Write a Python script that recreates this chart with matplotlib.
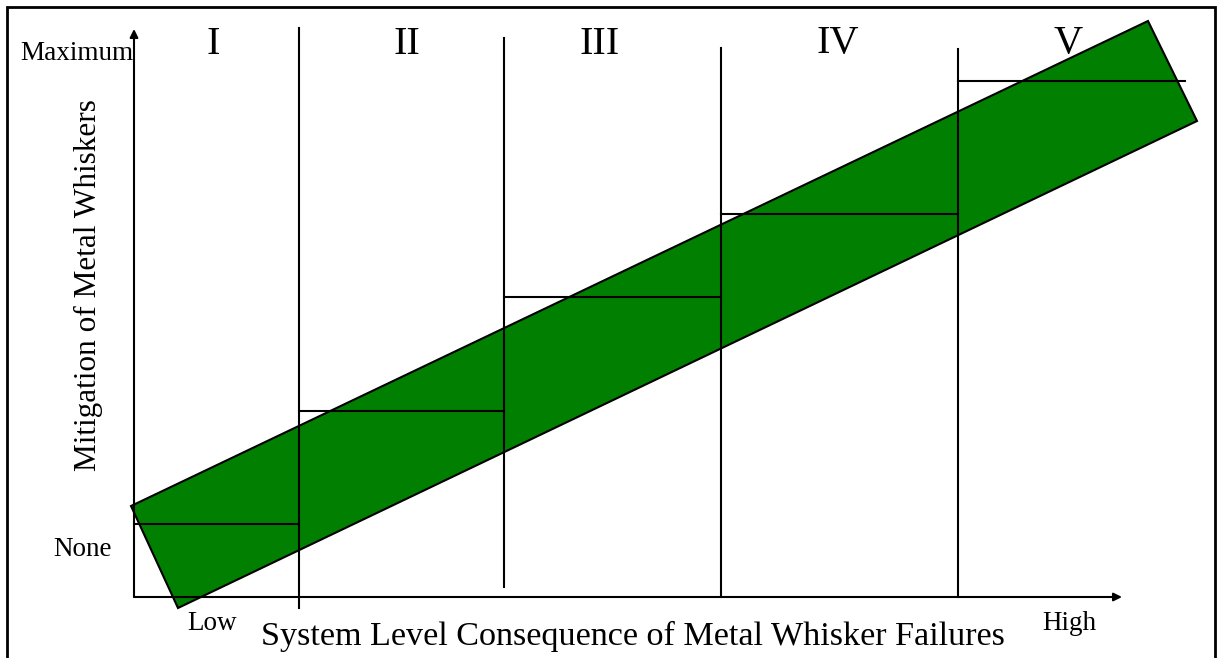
import matplotlib
matplotlib.use("Agg")
import matplotlib.pyplot as plt
from matplotlib.patches import Polygon

# ---- data (units: axis-relative positions on the schematic) ----
region_labels = ["I", "II", "III", "IV", "V"]
region_label_x = [79, 273, 466, 704, 934]
region_label_y = 553
divider_x = [165, 370, 587, 824]
divider_top = [569, 559, 549, 548]
divider_bottom = [-11, 10, 0, 0]
step_start = [0, 165, 370, 587, 824]
step_end = [165, 370, 587, 824, 1051]
step_level = [73, 186, 300, 383, 516]
band_x = [-3, 44, 1063, 1014]
band_y = [91, -11, 476, 576]
x_axis_end = 988
y_axis_end = 568

fig = plt.figure(figsize=(12.17, 6.58), dpi=100)
ax = fig.add_axes([0, 0, 1, 1])
ax.set_xlim(-134, 1217 - 134)
ax.set_ylim(-61, 597)
ax.axis("off")

serif = "Liberation Serif"

# outer frame
ax.plot([-127, -127, 1081, 1081], [-61, 590, 590, -61], color="black", lw=2.0,
        solid_joinstyle="miter")

# band
ax.add_patch(Polygon(list(zip(band_x, band_y)), closed=True, facecolor="#007F00",
                     edgecolor="black", lw=1.5, zorder=2))

# axes with arrows
ax.annotate("", xy=(x_axis_end, 0), xytext=(0, 0),
            arrowprops=dict(arrowstyle="-|>", color="black", lw=1.5,
                            mutation_scale=12, shrinkA=0, shrinkB=0), zorder=3)
ax.annotate("", xy=(0, y_axis_end), xytext=(0, 0),
            arrowprops=dict(arrowstyle="-|>", color="black", lw=1.5,
                            mutation_scale=12, shrinkA=0, shrinkB=0), zorder=3)

# dividers
for x, t, b in zip(divider_x, divider_top, divider_bottom):
    ax.plot([x, x], [b, t], color="black", lw=1.5, zorder=3)

# steps
for s, e, lv in zip(step_start, step_end, step_level):
    ax.plot([s, e], [lv, lv], color="black", lw=1.5, zorder=3)

# region labels
for lab, x in zip(region_labels, region_label_x):
    ax.text(x, region_label_y, lab, family=serif, fontsize=29, ha="center", va="center")

ax.text(-1, 544, "Maximum", family=serif, fontsize=19.5, ha="right", va="center")
ax.text(-51, 47, "None", family=serif, fontsize=19.5, ha="center", va="center")
ax.text(78, -26, "Low", family=serif, fontsize=19.5, ha="center", va="center")
ax.text(935, -26, "High", family=serif, fontsize=19.5, ha="center", va="center")
ax.text(499, -39, "System Level Consequence of Metal Whisker Failures", family=serif,
        fontsize=24.6, ha="center", va="center")
ax.text(-46, 312, "Mitigation of Metal Whiskers", family=serif, fontsize=22.5,
        ha="center", va="center", rotation=90)

fig.savefig("out.png", dpi=100)
